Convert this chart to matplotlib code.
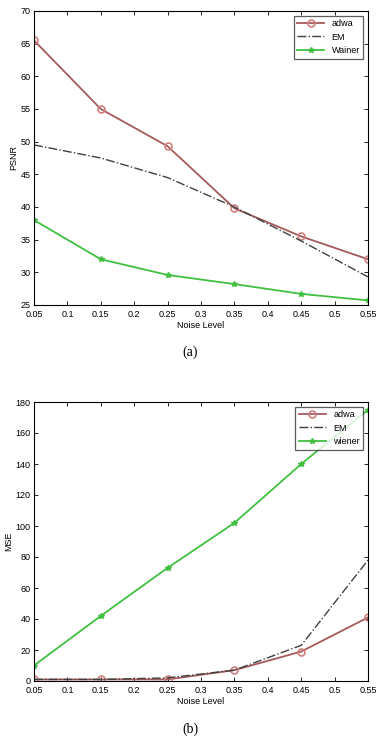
import matplotlib
matplotlib.use("Agg")
import matplotlib.pyplot as plt

noise = [0.05, 0.15, 0.25, 0.35, 0.45, 0.55]
xticks = [0.05, 0.1, 0.15, 0.2, 0.25, 0.3, 0.35, 0.4, 0.45, 0.5, 0.55]
xticklabels = ["0.05", "0.1", "0.15", "0.2", "0.25", "0.3", "0.35", "0.4", "0.45", "0.5", "0.55"]

psnr_adwa = [65.5, 55.0, 49.3, 39.8, 35.5, 32.0]
psnr_em = [49.5, 47.5, 44.5, 40.0, 34.8, 29.3]
psnr_wiener = [38.0, 32.0, 29.6, 28.2, 26.7, 25.7]

mse_adwa = [1.0, 1.0, 1.0, 7.0, 19.0, 41.0]
mse_em = [1.0, 1.0, 2.0, 7.0, 23.0, 78.0]
mse_wiener = [10.0, 42.0, 73.0, 102.0, 140.0, 175.0]

plt.rcParams['font.family'] = ['Liberation Sans', 'DejaVu Sans']

W, H = 380, 740
fig = plt.figure(figsize=(W / 100, H / 100), dpi=100)

red = "#a55a5a"
mk = "#d08080"
green = "#40c040"
gray = "#404040"

def setup(ax, ylim, yticks, ylabel):
    ax.set_xlim(0.05, 0.55)
    ax.set_ylim(*ylim)
    ax.set_xticks(xticks)
    ax.set_xticklabels(xticklabels)
    ax.set_yticks(yticks)
    ax.tick_params(direction="in", top=True, right=True, labelsize=6.5, length=3, width=0.6)
    ax.tick_params(axis="x", pad=3.5)
    ax.tick_params(axis="y", pad=2.5)
    for s in ax.spines.values():
        s.set_linewidth(0.8)
    ax.set_xlabel("Noise Level", fontsize=6.5, labelpad=1.5)
    ax.set_ylabel(ylabel, fontsize=6.5, labelpad=1.5)

# (a)
ax1 = fig.add_axes([34 / W, 1 - 305 / H, 334 / W, 294 / H])
ax1.plot(noise, psnr_adwa, color=red, lw=1.3, marker="o", ms=5, mfc="none", mec=mk, mew=1.2, label="adwa")
ax1.plot(noise, psnr_em, color=gray, lw=1.0, ls="-.", label="EM")
ax1.plot(noise, psnr_wiener, color=green, lw=1.3, marker="*", ms=4, label="Wainer")
setup(ax1, (25, 70), list(range(25, 71, 5)), "PSNR")
leg1 = ax1.legend(loc="upper right", fontsize=6.5, frameon=True, fancybox=False, edgecolor="#333333",
                  borderpad=0.4, handlelength=3.0, labelspacing=0.5)
leg1.get_frame().set_linewidth(0.9)
fig.text(0.5, 1 - 352 / H, "(a)", ha="center", va="center", fontsize=10, family="Liberation Serif")

# (b)
ax2 = fig.add_axes([34 / W, 1 - 681 / H, 334 / W, 279 / H])
ax2.plot(noise, mse_adwa, color=red, lw=1.3, marker="o", ms=5, mfc="none", mec=mk, mew=1.2, label="adwa")
ax2.plot(noise, mse_em, color=gray, lw=1.0, ls="-.", label="EM")
ax2.plot(noise, mse_wiener, color=green, lw=1.3, marker="*", ms=4, label="wiener")
setup(ax2, (0, 180), list(range(0, 181, 20)), "MSE")
leg2 = ax2.legend(loc="upper right", fontsize=6.5, frameon=True, fancybox=False, edgecolor="#333333",
                  borderpad=0.4, handlelength=3.0, labelspacing=0.5)
leg2.get_frame().set_linewidth(0.9)
fig.text(0.5, 1 - 729 / H, "(b)", ha="center", va="center", fontsize=10, family="Liberation Serif")

fig.savefig("out.png", dpi=100)
